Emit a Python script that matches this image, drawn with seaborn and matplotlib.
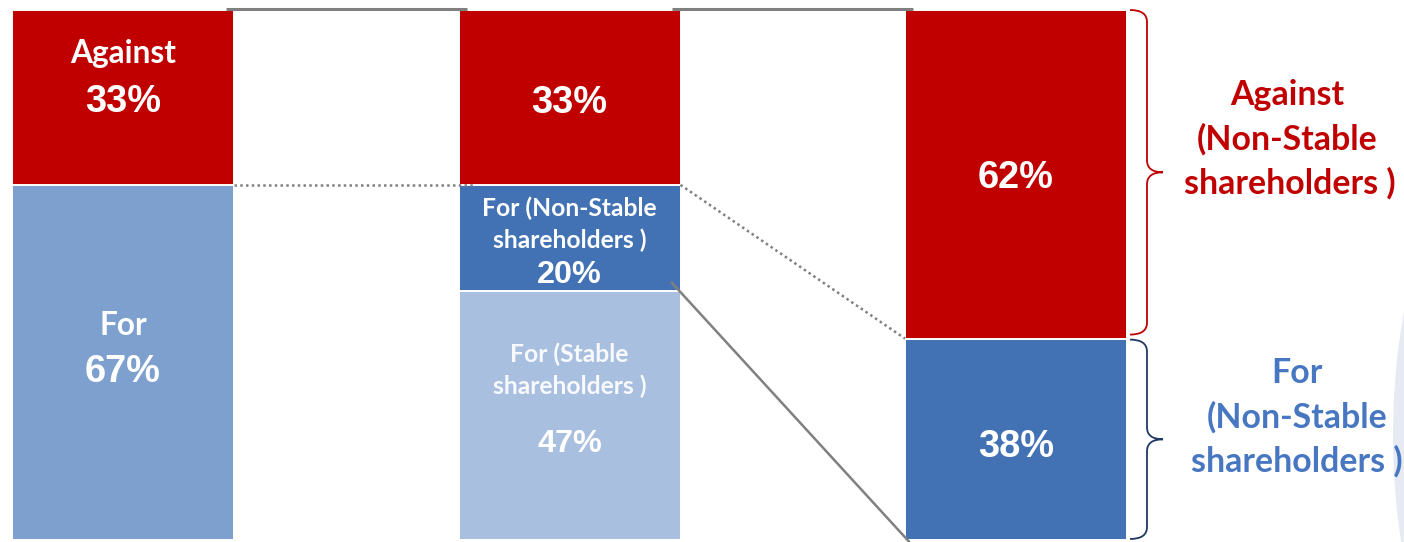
import matplotlib
matplotlib.use("Agg")
import matplotlib.pyplot as plt
from matplotlib.path import Path
from matplotlib.patches import PathPatch, Circle
import seaborn as sns
import pandas as pd

# ---------------- data ----------------
categories = ["All shareholders", "By shareholder type", "Non-Stable shareholders"]
against_pct = [33, 33, 62]
for_total_pct = [67, 0, 0]
for_nonstable_pct = [0, 20, 38]
for_stable_pct = [0, 47, 0]

# ---------------- style ----------------
RED = "#C00000"
BLUE_TOTAL = "#7EA0CF"
BLUE_NONSTABLE = "#4272B4"
BLUE_STABLE = "#A9BFDF"
BLUE_TEXT = "#4677C0"
GREY = "#808080"
LBL = "Lato"
NUM = "Liberation Sans"

sns.set_theme(style="white")
plt.rcParams["font.family"] = [LBL, "DejaVu Sans"]

W, H = 1404, 542
fig = plt.figure(figsize=(W / 100, H / 100), dpi=100)

# main axes: y=0 at pixel 540 (from top), y=100 at pixel 10
ax = fig.add_axes([0, 2 / H, 1, 530 / H])

# build stacked segments (bottom -> top)
rows = []
for i, cat in enumerate(categories):
    bottom = 0
    for seg, vals, col in [("For (Stable)", for_stable_pct, BLUE_STABLE),
                           ("For (Non-Stable)", for_nonstable_pct, BLUE_NONSTABLE),
                           ("For", for_total_pct, BLUE_TOTAL),
                           ("Against", against_pct, RED)]:
        v = vals[i]
        if v > 0:
            rows.append(dict(category=cat, segment=seg, value=v, bottom=bottom, color=col))
            bottom += v
segs = pd.DataFrame(rows)

bar_w = 222 / 446.5
for _, r in segs.iterrows():
    sns.barplot(data=pd.DataFrame({"category": [r.category], "value": [r.value]}),
                x="category", y="value", order=categories, bottom=r.bottom,
                color=r.color, saturation=1, width=bar_w, errorbar=None,
                edgecolor="white", linewidth=1.4, ax=ax)

xmin, xmax = -123 / 446.5, (W - 123) / 446.5
ax.set_xlim(xmin, xmax)
ax.set_ylim(0, 100)
ax.axis("off")

left = [i - bar_w / 2 for i in range(3)]
right = [i + bar_w / 2 for i in range(3)]
b1 = for_nonstable_pct[1] + for_stable_pct[1]   # top of "For" in bar 2
b2 = for_nonstable_pct[2]                        # top of "For" in bar 3

# connectors
ext = 0.018
for a, b in [(0, 1), (1, 2)]:
    ax.plot([right[a] - ext, left[b] + ext], [100.2, 100.2], color=GREY, lw=2.2,
            solid_capstyle="butt", clip_on=False, zorder=5)
ax.plot([right[0], left[1] + 0.035], [for_total_pct[0], b1], color=GREY, lw=1.8,
        ls=(0, (1, 1.3)), clip_on=False, zorder=5)
ax.plot([right[1], left[2]], [b1, b2], color=GREY, lw=1.8,
        ls=(0, (1, 1.3)), clip_on=False, zorder=5)
ax.plot([right[1] - 0.02, left[2] + 0.01], [for_stable_pct[1] + 1.6, -0.4],
        color=GREY, lw=1.8, clip_on=False, zorder=5)

# overlay in pixel coordinates for labels and braces
ov = fig.add_axes([0, 0, 1, 1])
ov.set_xlim(0, W)
ov.set_ylim(H, 0)
ov.axis("off")
ov.patch.set_alpha(0)


def px(x):
    return (x - xmin) / (xmax - xmin) * W


def py(y):
    return 540 - y * 5.3


# faint circle at far right
ov.add_patch(Circle((1393 + 700, 435), 700, facecolor="#E6EAF3", edgecolor="none", zorder=0))


def brace(x0, yt, yb, color):
    xm, xt, r = x0 + 17, x0 + 33, 12
    ym = (yt + yb) / 2
    verts = [(x0, yt), (xm, yt), (xm, yt + r),
             (xm, ym - r), (xm, ym), (xt, ym),
             (xm, ym), (xm, ym + r),
             (xm, yb - r), (xm, yb), (x0, yb)]
    codes = [Path.MOVETO, Path.CURVE3, Path.CURVE3,
             Path.LINETO, Path.CURVE3, Path.CURVE3,
             Path.CURVE3, Path.CURVE3,
             Path.LINETO, Path.CURVE3, Path.CURVE3]
    ov.add_patch(PathPatch(Path(verts, codes), facecolor="none", edgecolor=color, lw=1.3, zorder=3))


bx = px(right[2]) + 3
brace(bx, py(100), py(b2) - 4, RED)
brace(bx, py(b2) + 1, py(0) - 1, "#203864")

groups = {}


def t(x, y, s, group, fam=LBL, color="white", alpha=1.0):
    txt = ov.text(x, y, s, ha="center", va="baseline", fontsize=20, fontweight="bold",
                  family=[fam, "DejaVu Sans"], color=color, alpha=alpha, zorder=6)
    groups.setdefault(group, []).append(txt)
    return txt


# target widths (px) of one reference string per group
fit = {"bar0": ("Against", 106), "seg": ("For (Non-Stable", 175),
       "right": ("(Non-Stable", 181), "big": ("33%", 76), "small": ("20%", 65)}

c0, c1, c2 = px(0), px(1), px(2)
# bar 1
t(c0, 63, "Against", "bar0")
t(c0, 112, f"{against_pct[0]}%", "big", NUM)
t(c0, 335, "For", "bar0")
t(c0, 382, f"{for_total_pct[0]}%", "big", NUM)
# bar 2
t(c1, 113, f"{against_pct[1]}%", "big", NUM)
t(c1, 216, "For (Non-Stable", "seg")
t(c1, 248, "shareholders )", "seg")
t(c1, 283, f"{for_nonstable_pct[1]}%", "small", NUM)
t(c1, 362, "For (Stable", "seg", alpha=0.92)
t(c1, 394, "shareholders )", "seg", alpha=0.92)
t(c1, 452, f"{for_stable_pct[1]}%", "small", NUM)
# bar 3
t(c2, 188, f"{against_pct[2]}%", "big", NUM)
t(c2, 457, f"{for_nonstable_pct[2]}%", "big", NUM)
# right labels
t(1287, 105, "Against", "right", color=RED)
t(1287, 150, "(Non-Stable", "right", color=RED)
t(1290, 194, "shareholders )", "right", color=RED)
t(1297, 383, "For", "right", color=BLUE_TEXT)
t(1297, 428, "(Non-Stable", "right", color=BLUE_TEXT)
t(1297, 472, "shareholders )", "right", color=BLUE_TEXT)

renderer = fig.canvas.get_renderer()
for g, txts in groups.items():
    ref_s, target = fit[g]
    ref = next(tx for tx in txts if tx.get_text() == ref_s)
    w = ref.get_window_extent(renderer).width
    size = 20 * target / w
    for tx in txts:
        tx.set_fontsize(size)

fig.savefig("out.png", dpi=100)
